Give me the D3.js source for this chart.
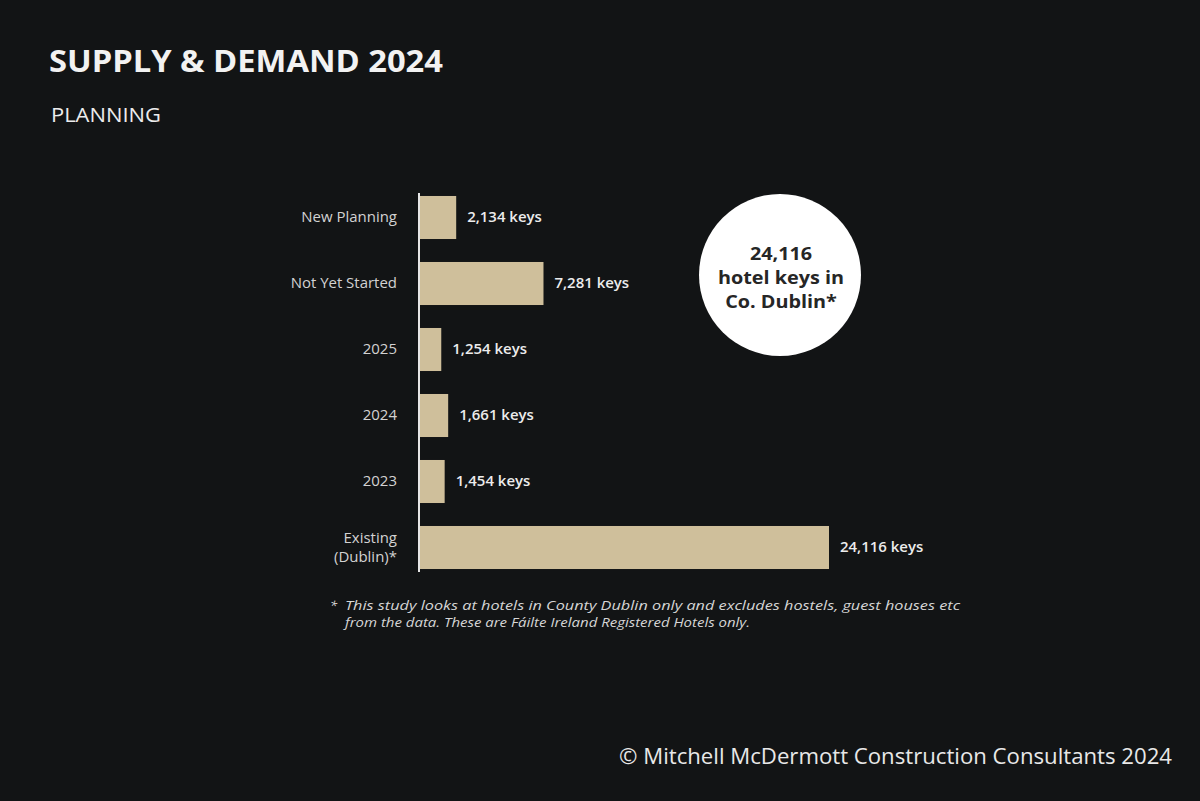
<!DOCTYPE html>
<html>
<head>
<meta charset="utf-8">
<script src="https://cdn.jsdelivr.net/npm/d3@7"></script>
<style>
  html, body { margin: 0; padding: 0; background: #121415; }
  svg { display: block; }
</style>
</head>
<body>
<div id="chart"></div>
<script>
const categories = ["New Planning", "Not Yet Started", "2025", "2024", "2023", "Existing (Dublin)*"];
const categoryLines = [["New Planning"], ["Not Yet Started"], ["2025"], ["2024"], ["2023"], ["Existing", "(Dublin)*"]];
const keys = [2134, 7281, 1254, 1661, 1454, 24116];
const valueLabels = ["2,134 keys", "7,281 keys", "1,254 keys", "1,661 keys", "1,454 keys", "24,116 keys"];
const circleLines = ["24,116", "hotel keys in", "Co. Dublin*"];
const footnoteLines = ["This study looks at hotels in County Dublin only and excludes hostels, guest houses etc", "from the data. These are Fáilte Ireland Registered Hotels only."];

const W = 1200, H = 801;
const svg = d3.select("#chart").append("svg").attr("width", W).attr("height", H);
svg.append("rect").attr("width", W).attr("height", H).attr("fill", "#121415");

const font = "'Open Sans', 'Noto Sans', sans-serif";

// Title
svg.append("text").attr("x", 49).attr("y", 72)
  .attr("font-family", font).attr("font-weight", 700).attr("font-size", 30)
  .attr("fill", "#f2f2f2").attr("textLength", 394).attr("lengthAdjust", "spacingAndGlyphs")
  .text("SUPPLY & DEMAND 2024");
svg.append("text").attr("x", 51).attr("y", 122)
  .attr("font-family", font).attr("font-weight", 400).attr("font-size", 20)
  .attr("fill", "#ececec").attr("textLength", 110).attr("lengthAdjust", "spacingAndGlyphs")
  .text("PLANNING");

// Scales
const x0 = 420;
const x = d3.scaleLinear().domain([0, 24116]).range([x0, 829]);
const y = d3.scaleBand().domain(categories).range([184.5, 580.5]).paddingInner(0.348).paddingOuter(0.174);

// Bars
svg.append("g").selectAll("rect").data(categories).join("rect")
  .attr("x", x(0))
  .attr("y", d => y(d))
  .attr("width", (d, i) => x(keys[i]) - x(0))
  .attr("height", y.bandwidth())
  .attr("fill", "#cfbf9b");

// Axis line
svg.append("line").attr("x1", 419).attr("x2", 419).attr("y1", 193).attr("y2", 572)
  .attr("stroke", "#e6e6e6").attr("stroke-width", 2);

// Category labels
const catG = svg.append("g");
categories.forEach((c, i) => {
  const lines = categoryLines[i];
  const cy = y(c) + y.bandwidth() / 2;
  const lh = 19;
  const t = catG.append("text")
    .attr("x", 397).attr("text-anchor", "end")
    .attr("font-family", font).attr("font-size", 14).attr("fill", "#d2d2d2")
    .attr("transform", `translate(397,0) scale(1.07,1) translate(-397,0)`);
  lines.forEach((l, j) => {
    t.append("tspan").attr("x", 397)
      .attr("y", cy + 5 + (j - (lines.length - 1) / 2) * lh)
      .text(l);
  });
});

// Value labels
svg.append("g").selectAll("text").data(categories).join("text")
  .attr("x", (d, i) => x(keys[i]) + 11)
  .attr("y", d => y(d) + y.bandwidth() / 2 + 4.5)
  .attr("font-family", font).attr("font-weight", 600).attr("font-size", 14)
  .attr("fill", "#ececec")
  .attr("transform", (d, i) => { const tx = x(keys[i]) + 11; return `translate(${tx},0) scale(1.07,1) translate(${-tx},0)`; })
  .text((d, i) => valueLabels[i]);

// Circle
svg.append("circle").attr("cx", 780).attr("cy", 275).attr("r", 81).attr("fill", "#ffffff");
const ct = svg.append("text").attr("text-anchor", "middle")
  .attr("font-family", font).attr("font-weight", 700).attr("font-size", 18).attr("fill", "#262626")
  .attr("transform", "translate(781,0) scale(1.1,1) translate(-781,0)");
circleLines.forEach((l, j) => {
  ct.append("tspan").attr("x", 781).attr("y", 260 + j * 24).text(l);
});

// Footnote
svg.append("text").attr("x", 330).attr("y", 610)
  .attr("font-family", font).attr("font-style", "italic").attr("font-size", 13)
  .attr("fill", "#d6d6d6").text("*");
footnoteLines.forEach((l, j) => {
  const t = svg.append("text").attr("x", 345).attr("y", 610 + j * 17)
    .attr("font-family", font).attr("font-style", "italic").attr("font-size", 13.5)
    .attr("fill", "#d6d6d6").text(l);
  if (j === 0) t.attr("textLength", 615).attr("lengthAdjust", "spacingAndGlyphs");
  else t.attr("textLength", 405).attr("lengthAdjust", "spacingAndGlyphs");
});

// Footer
svg.append("text").attr("x", 1172).attr("y", 764).attr("text-anchor", "end")
  .attr("font-family", font).attr("font-size", 21.5).attr("fill", "#e8e8e8")
  .attr("textLength", 553).attr("lengthAdjust", "spacingAndGlyphs")
  .text("© Mitchell McDermott Construction Consultants 2024");
</script>
</body>
</html>
